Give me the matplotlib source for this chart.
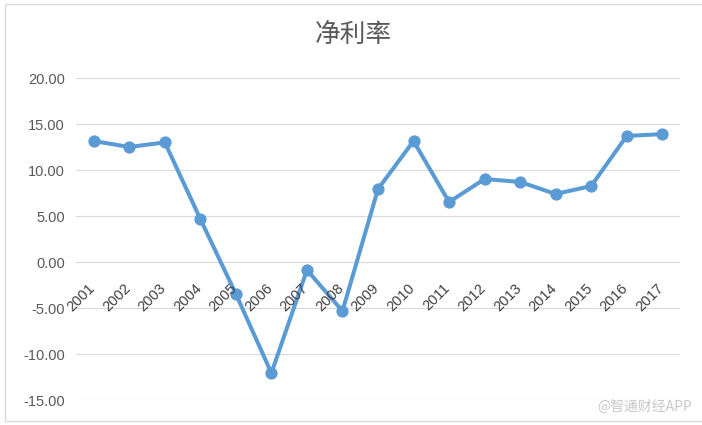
import matplotlib
matplotlib.use("Agg")
import matplotlib.pyplot as plt
from matplotlib.patches import Rectangle

plt.rcParams['font.family'] = ['Noto Sans CJK SC', 'DejaVu Sans']

years = [str(y) for y in range(2001, 2018)]
net_margin = [13.15, 12.5, 13.0, 4.67, -3.48, -12.07, -0.87, -5.33, 7.93,
              13.15, 6.52, 9.02, 8.7, 7.39, 8.26, 13.7, 13.9]
yticks = [-15, -10, -5, 0, 5, 10, 15, 20]

fig = plt.figure(figsize=(7.02, 4.25), dpi=100)
fig.patches.append(Rectangle((5 / 702, 4 / 425), 1.0, 417 / 425, transform=fig.transFigure,
                             fill=False, edgecolor='#D9D9D9', linewidth=1.0))
ax = fig.add_axes([76 / 702, 25 / 425, 604 / 702, 322 / 425])

x = list(range(len(years)))
ax.plot(x, net_margin, color='#5B9BD5', linewidth=2.9, marker='o', markersize=7.8,
        solid_joinstyle='round', zorder=3)

ax.set_xlim(-0.5, len(years) - 0.5)
ax.set_ylim(-15, 20)
ax.set_yticks(yticks)
ax.set_yticklabels([f"{v:.2f}" for v in yticks], color='#595959', fontsize=10.5,
                   family='Liberation Sans')
ax.grid(axis='y', color='#D9D9D9', linewidth=0.8)
ax.set_axisbelow(True)
for s in ax.spines.values():
    s.set_visible(False)
ax.tick_params(axis='y', length=0, pad=8)
ax.tick_params(axis='x', length=0)
ax.set_xticks([])

# category labels sit under the zero line, rotated like Excel
for xi, lab in zip(x, years):
    ax.annotate(lab, xy=(xi, 0), xytext=(4, -19), textcoords='offset pixels',
                ha='right', va='top', rotation=45, fontsize=10.5,
                color='#404040', family='Liberation Sans')

fig.text(353 / 702, 1 - 35 / 425, "净利率", ha='center', va='center', fontsize=18.5,
         color='#595959', fontweight='light')
fig.text(692 / 702, 1 - 407 / 425, "@智通财经APP", ha='right', va='center', fontsize=10,
         color='#C8C8C8')

fig.savefig("out.png", dpi=100)
